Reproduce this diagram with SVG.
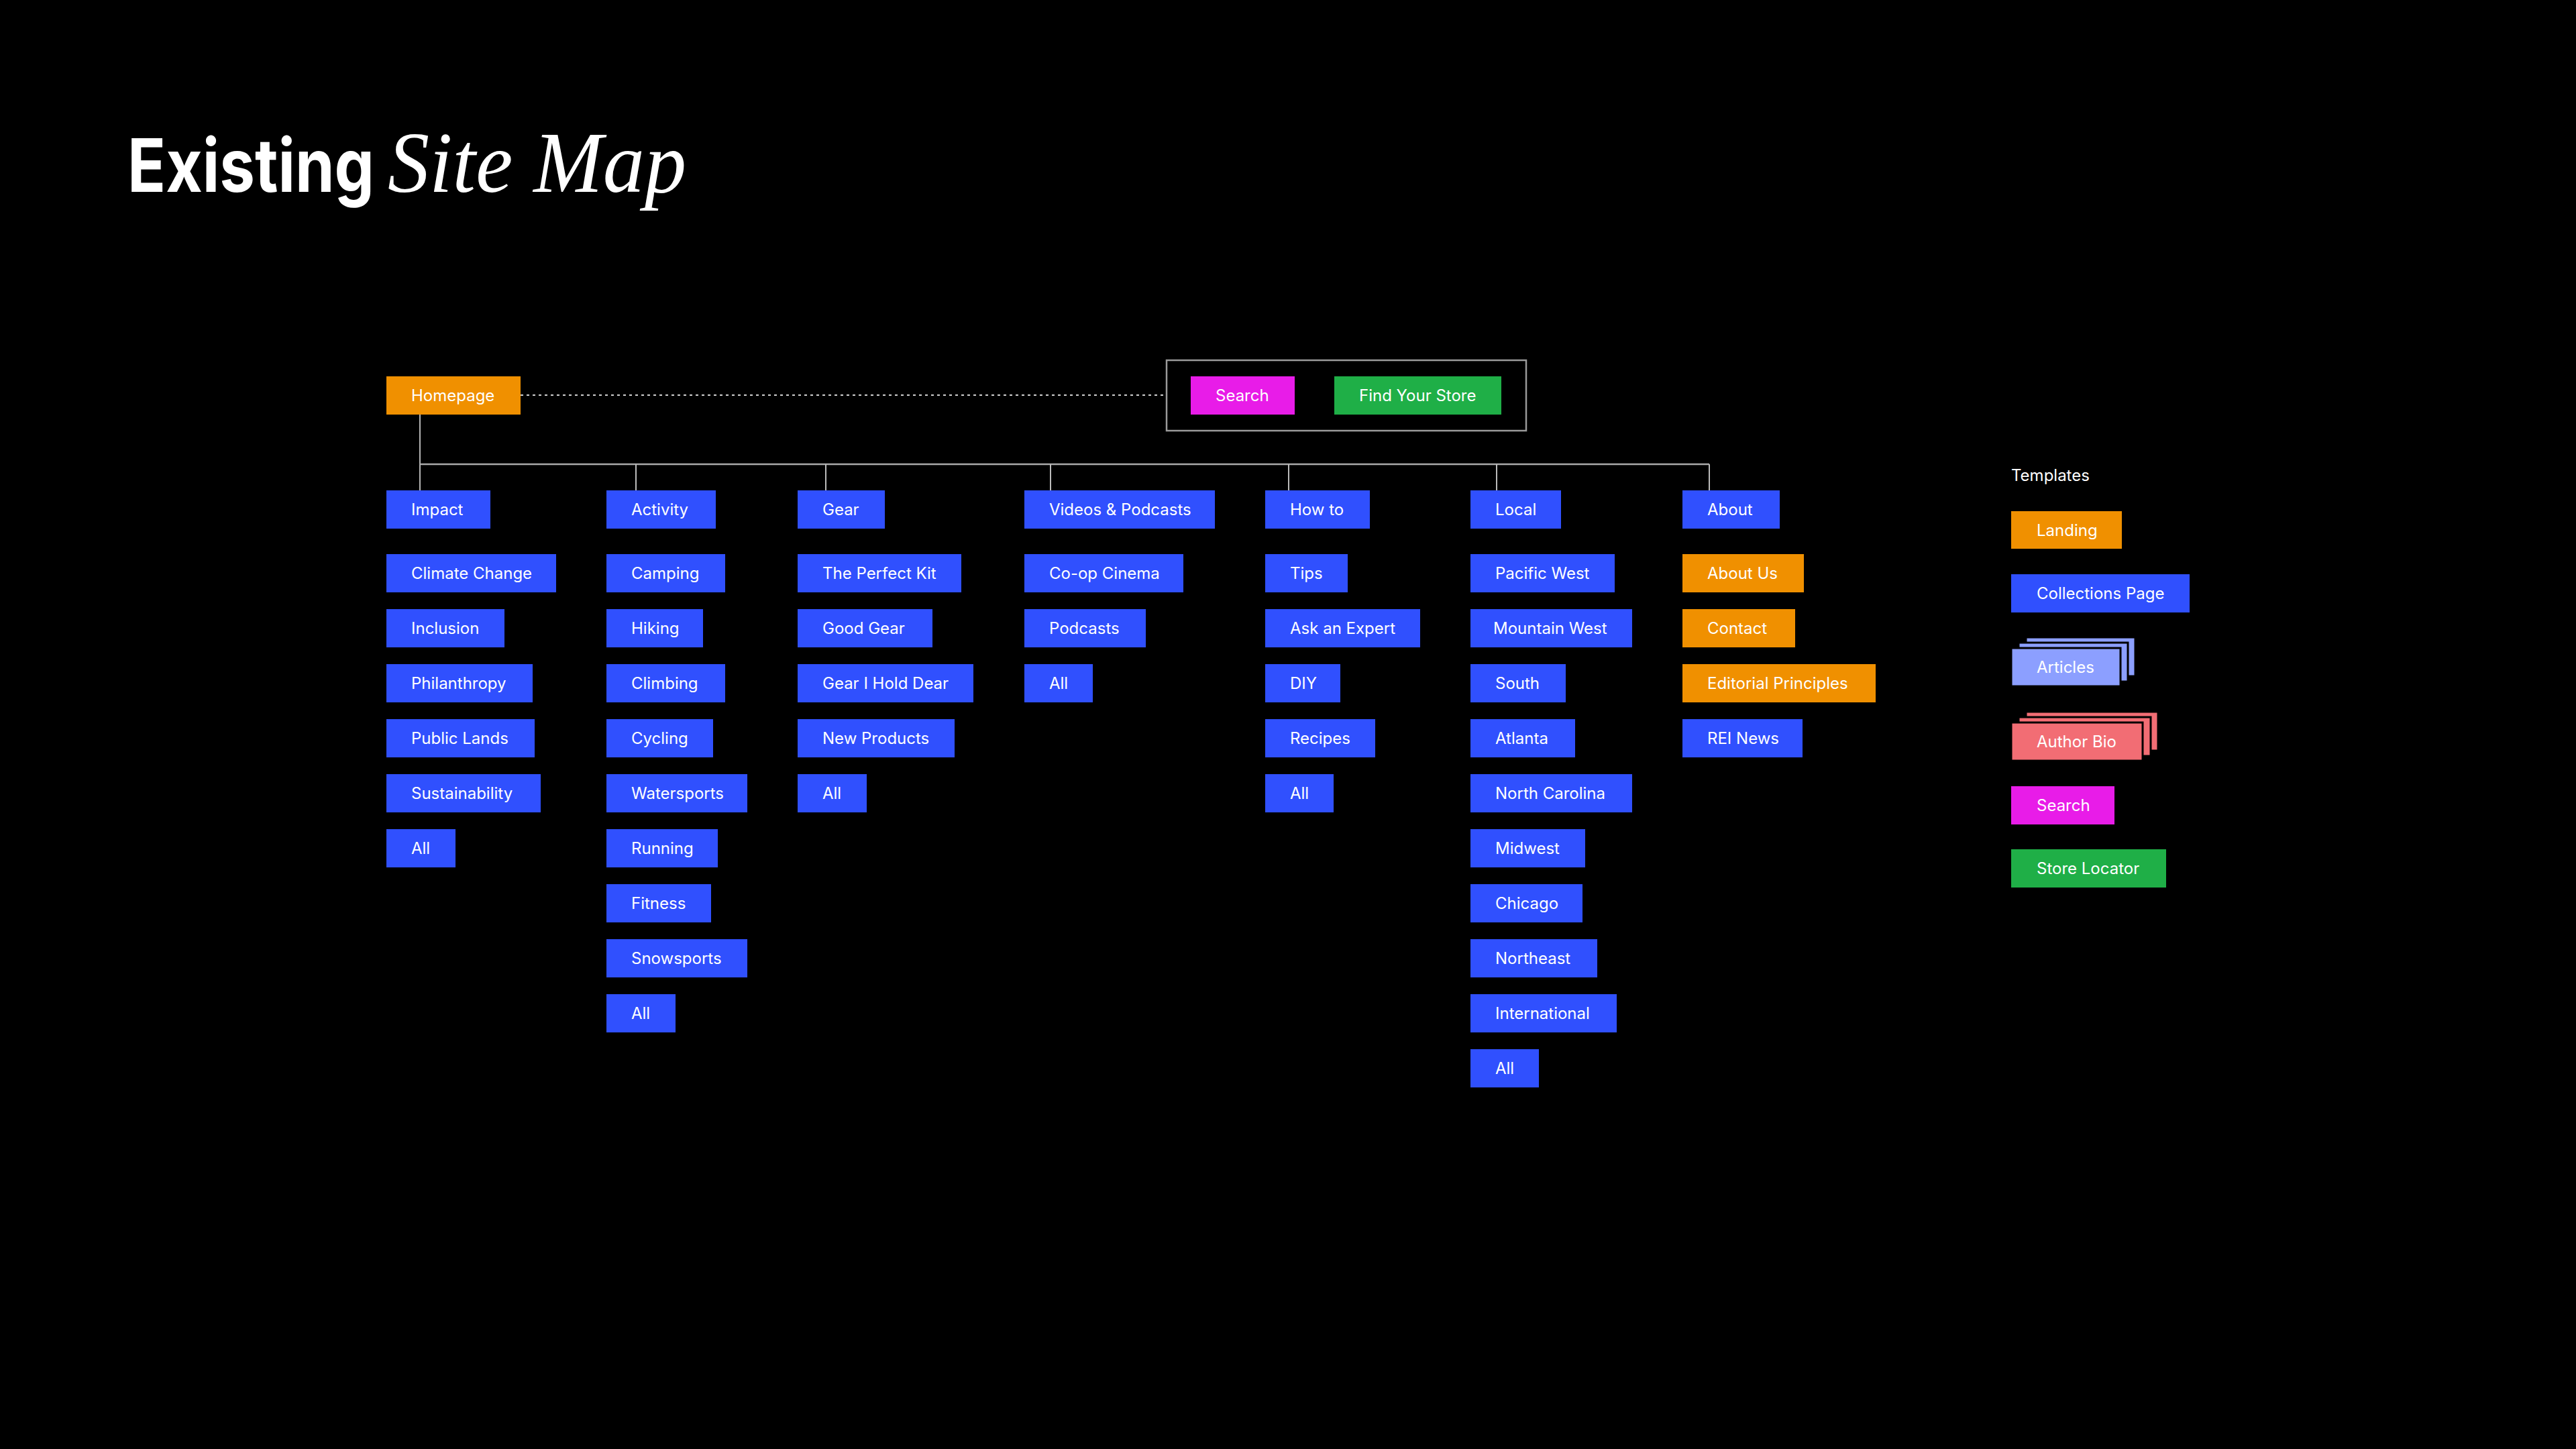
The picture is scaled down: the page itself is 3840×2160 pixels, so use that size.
<svg xmlns="http://www.w3.org/2000/svg" width="3840" height="2160" viewBox="0 0 3840 2160">
<style>
.bg{fill:#000}
.n{stroke:none}
.b{fill:#3050FE}
.o{fill:#F09000}
.m{fill:#E81CE8}
.g{fill:#1FAF47}
.p{fill:#8C9FFF;stroke:#000;stroke-width:3}
.r{fill:#F26D74;stroke:#000;stroke-width:3}
.t{font-family:Inter,"Noto Sans","Liberation Sans",sans-serif;font-size:24px;fill:#fff}
.line{stroke:#BBBBBB;stroke-width:2;fill:none}
.hline{stroke:#F0F0F0;stroke-width:1.5;fill:none}
.bus{stroke:#AAAAAA;stroke-width:2.5;fill:none}
.dot{stroke:#D0D0D0;stroke-width:2;stroke-dasharray:4 5;fill:none}
.grp{stroke:#9A9A9A;stroke-width:2.5;fill:none}
</style>
<rect class="bg" x="0" y="0" width="3840" height="2160"/>

<g id="title">
<text x="190" y="286" font-family="Inter,'Liberation Sans',sans-serif" font-weight="700" font-size="110" fill="#fff" textLength="368" lengthAdjust="spacingAndGlyphs">Existing</text>
<text x="578" y="286" font-family="'Liberation Serif',serif" font-style="italic" font-size="130" fill="#fff" textLength="445" lengthAdjust="spacingAndGlyphs">Site Map</text>
</g>

<g id="connectors">
<line class="dot" x1="776" y1="589" x2="1739" y2="589"/>
<rect class="grp" x="1739" y="537" width="536" height="105"/>
<line class="hline" x1="626" y1="618" x2="626" y2="731"/>
<line class="bus" x1="626" y1="692" x2="2548" y2="692"/>
<line class="line" x1="948" y1="692" x2="948" y2="731"/>
<line class="line" x1="1231" y1="692" x2="1231" y2="731"/>
<line class="line" x1="1566" y1="692" x2="1566" y2="731"/>
<line class="line" x1="1921" y1="692" x2="1921" y2="731"/>
<line class="line" x1="2231" y1="692" x2="2231" y2="731"/>
<line class="line" x1="2548" y1="692" x2="2548" y2="731"/>
</g>

<g id="homepage"><rect class="o" x="576" y="561" width="200" height="57"/><text class="t" x="613" y="598">Homepage</text></g>
<g id="search-top"><rect class="m" x="1775" y="561" width="155" height="57"/><text class="t" x="1812" y="598">Search</text></g>
<g id="find-your-store"><rect class="g" x="1989" y="561" width="249" height="57"/><text class="t" x="2026" y="598">Find Your Store</text></g>

<!-- Impact column -->
<g id="impact"><rect class="b" x="576" y="731" width="155" height="57"/><text class="t" x="613" y="768">Impact</text></g>
<g id="climate-change"><rect class="b" x="576" y="826" width="253" height="57"/><text class="t" x="613" y="863">Climate Change</text></g>
<g id="inclusion"><rect class="b" x="576" y="908" width="176" height="57"/><text class="t" x="613" y="945">Inclusion</text></g>
<g id="philanthropy"><rect class="b" x="576" y="990" width="218" height="57"/><text class="t" x="613" y="1027">Philanthropy</text></g>
<g id="public-lands"><rect class="b" x="576" y="1072" width="221" height="57"/><text class="t" x="613" y="1109">Public Lands</text></g>
<g id="sustainability"><rect class="b" x="576" y="1154" width="230" height="57"/><text class="t" x="613" y="1191">Sustainability</text></g>
<g id="impact-all"><rect class="b" x="576" y="1236" width="103" height="57"/><text class="t" x="613" y="1273">All</text></g>

<!-- Activity column -->
<g id="activity"><rect class="b" x="904" y="731" width="163" height="57"/><text class="t" x="941" y="768">Activity</text></g>
<g id="camping"><rect class="b" x="904" y="826" width="177" height="57"/><text class="t" x="941" y="863">Camping</text></g>
<g id="hiking"><rect class="b" x="904" y="908" width="144" height="57"/><text class="t" x="941" y="945">Hiking</text></g>
<g id="climbing"><rect class="b" x="904" y="990" width="177" height="57"/><text class="t" x="941" y="1027">Climbing</text></g>
<g id="cycling"><rect class="b" x="904" y="1072" width="159" height="57"/><text class="t" x="941" y="1109">Cycling</text></g>
<g id="watersports"><rect class="b" x="904" y="1154" width="210" height="57"/><text class="t" x="941" y="1191">Watersports</text></g>
<g id="running"><rect class="b" x="904" y="1236" width="166" height="57"/><text class="t" x="941" y="1273">Running</text></g>
<g id="fitness"><rect class="b" x="904" y="1318" width="156" height="57"/><text class="t" x="941" y="1355">Fitness</text></g>
<g id="snowsports"><rect class="b" x="904" y="1400" width="210" height="57"/><text class="t" x="941" y="1437">Snowsports</text></g>
<g id="activity-all"><rect class="b" x="904" y="1482" width="103" height="57"/><text class="t" x="941" y="1519">All</text></g>

<!-- Gear column -->
<g id="gear"><rect class="b" x="1189" y="731" width="130" height="57"/><text class="t" x="1226" y="768">Gear</text></g>
<g id="the-perfect-kit"><rect class="b" x="1189" y="826" width="244" height="57"/><text class="t" x="1226" y="863">The Perfect Kit</text></g>
<g id="good-gear"><rect class="b" x="1189" y="908" width="201" height="57"/><text class="t" x="1226" y="945">Good Gear</text></g>
<g id="gear-i-hold-dear"><rect class="b" x="1189" y="990" width="262" height="57"/><text class="t" x="1226" y="1027">Gear I Hold Dear</text></g>
<g id="new-products"><rect class="b" x="1189" y="1072" width="234" height="57"/><text class="t" x="1226" y="1109">New Products</text></g>
<g id="gear-all"><rect class="b" x="1189" y="1154" width="103" height="57"/><text class="t" x="1226" y="1191">All</text></g>

<!-- Videos column -->
<g id="videos-podcasts"><rect class="b" x="1527" y="731" width="284" height="57"/><text class="t" x="1564" y="768">Videos &amp; Podcasts</text></g>
<g id="co-op-cinema"><rect class="b" x="1527" y="826" width="237" height="57"/><text class="t" x="1564" y="863">Co-op Cinema</text></g>
<g id="podcasts"><rect class="b" x="1527" y="908" width="181" height="57"/><text class="t" x="1564" y="945">Podcasts</text></g>
<g id="videos-all"><rect class="b" x="1527" y="990" width="102" height="57"/><text class="t" x="1564" y="1027">All</text></g>

<!-- How to column -->
<g id="how-to"><rect class="b" x="1886" y="731" width="156" height="57"/><text class="t" x="1923" y="768">How to</text></g>
<g id="tips"><rect class="b" x="1886" y="826" width="123" height="57"/><text class="t" x="1923" y="863">Tips</text></g>
<g id="ask-an-expert"><rect class="b" x="1886" y="908" width="231" height="57"/><text class="t" x="1923" y="945">Ask an Expert</text></g>
<g id="diy"><rect class="b" x="1886" y="990" width="112" height="57"/><text class="t" x="1923" y="1027">DIY</text></g>
<g id="recipes"><rect class="b" x="1886" y="1072" width="164" height="57"/><text class="t" x="1923" y="1109">Recipes</text></g>
<g id="howto-all"><rect class="b" x="1886" y="1154" width="102" height="57"/><text class="t" x="1923" y="1191">All</text></g>

<!-- Local column -->
<g id="local"><rect class="b" x="2192" y="731" width="135" height="57"/><text class="t" x="2229" y="768">Local</text></g>
<g id="pacific-west"><rect class="b" x="2192" y="826" width="215" height="57"/><text class="t" x="2229" y="863">Pacific West</text></g>
<g id="mountain-west"><rect class="b" x="2192" y="908" width="241" height="57"/><text class="t" x="2226" y="945">Mountain West</text></g>
<g id="south"><rect class="b" x="2192" y="990" width="142" height="57"/><text class="t" x="2229" y="1027">South</text></g>
<g id="atlanta"><rect class="b" x="2192" y="1072" width="156" height="57"/><text class="t" x="2229" y="1109">Atlanta</text></g>
<g id="north-carolina"><rect class="b" x="2192" y="1154" width="241" height="57"/><text class="t" x="2229" y="1191">North Carolina</text></g>
<g id="midwest"><rect class="b" x="2192" y="1236" width="171" height="57"/><text class="t" x="2229" y="1273">Midwest</text></g>
<g id="chicago"><rect class="b" x="2192" y="1318" width="167" height="57"/><text class="t" x="2229" y="1355">Chicago</text></g>
<g id="northeast"><rect class="b" x="2192" y="1400" width="189" height="57"/><text class="t" x="2229" y="1437">Northeast</text></g>
<g id="international"><rect class="b" x="2192" y="1482" width="218" height="57"/><text class="t" x="2229" y="1519">International</text></g>
<g id="local-all"><rect class="b" x="2192" y="1564" width="102" height="57"/><text class="t" x="2229" y="1601">All</text></g>

<!-- About column -->
<g id="about"><rect class="b" x="2508" y="731" width="145" height="57"/><text class="t" x="2545" y="768">About</text></g>
<g id="about-us"><rect class="o" x="2508" y="826" width="181" height="57"/><text class="t" x="2545" y="863">About Us</text></g>
<g id="contact"><rect class="o" x="2508" y="908" width="168" height="57"/><text class="t" x="2545" y="945">Contact</text></g>
<g id="editorial-principles"><rect class="o" x="2508" y="990" width="288" height="57"/><text class="t" x="2545" y="1027">Editorial Principles</text></g>
<g id="rei-news"><rect class="b" x="2508" y="1072" width="179" height="57"/><text class="t" x="2545" y="1109">REI News</text></g>

<!-- Templates legend -->
<g id="templates-label"><text class="t" x="2998" y="717">Templates</text></g>
<g id="tpl-landing"><rect class="o" x="2998" y="762" width="165" height="56"/><text class="t" x="3036" y="799">Landing</text></g>
<g id="tpl-collections"><rect class="b" x="2998" y="856" width="266" height="57"/><text class="t" x="3036" y="893">Collections Page</text></g>
<g id="tpl-articles">
<rect class="p" x="3020" y="950" width="163" height="58"/>
<rect class="p" x="3009" y="958" width="163" height="58"/>
<rect class="p" x="2998" y="966" width="163" height="57"/>
<text class="t" x="3036" y="1003">Articles</text>
</g>
<g id="tpl-author-bio">
<rect class="r" x="3020" y="1061" width="197" height="58"/>
<rect class="r" x="3009" y="1069" width="197" height="58"/>
<rect class="r" x="2998" y="1077" width="196" height="57"/>
<text class="t" x="3036" y="1114">Author Bio</text>
</g>
<g id="tpl-search"><rect class="m" x="2998" y="1172" width="154" height="57"/><text class="t" x="3036" y="1209">Search</text></g>
<g id="tpl-store-locator"><rect class="g" x="2998" y="1266" width="231" height="57"/><text class="t" x="3036" y="1303">Store Locator</text></g>
</svg>
